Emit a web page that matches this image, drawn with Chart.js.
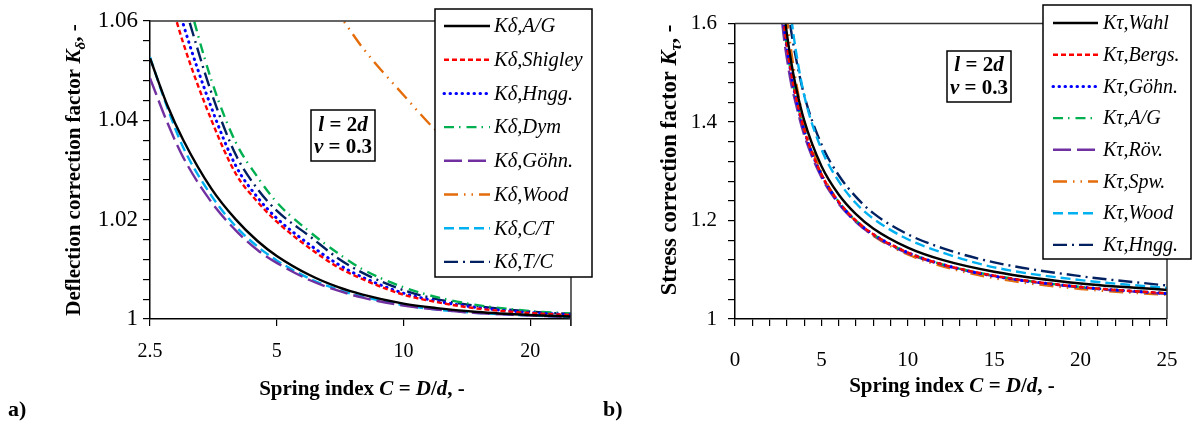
<!DOCTYPE html>
<html>
<head>
<script src="https://cdn.jsdelivr.net/npm/chart.js"></script>
<style>
  body { margin: 0; background: #fff; width: 1192px; height: 427px; overflow: hidden; position: relative; }
  canvas { position: absolute; top: 0; }
</style>
</head>
<body>
<canvas id="chartA" width="596" height="427" style="left:0"></canvas>
<canvas id="chartB" width="596" height="427" style="left:596px"></canvas>
<script>
// ---- a) deflection correction factor vs spring index (log x) ----
const cA = [2.5, 2.75, 3, 3.5, 4, 4.5, 5, 6, 7, 8, 10, 12, 15, 20, 25];
const kdAG      = [1.0525, 1.0430, 1.0360, 1.0262, 1.0200, 1.0157, 1.0127, 1.0088, 1.0064, 1.0049, 1.0031, 1.0022, 1.0014, 1.0008, 1.0005];
const kdShigley = [1.0800, 1.0665, 1.0555, 1.0400, 1.0292, 1.0236, 1.0196, 1.0142, 1.0104, 1.0080, 1.0049, 1.0034, 1.0021, 1.0012, 1.0008];
const kdHngg    = [1.0850, 1.0710, 1.0593, 1.0425, 1.0308, 1.0245, 1.0203, 1.0149, 1.0110, 1.0084, 1.0052, 1.0036, 1.0023, 1.0013, 1.0009];
const kdDym     = [1.0950, 1.0800, 1.0680, 1.0480, 1.0355, 1.0286, 1.0235, 1.0175, 1.0132, 1.0100, 1.0064, 1.0044, 1.0028, 1.0016, 1.0011];
const kdGohn    = [1.0485, 1.0395, 1.0325, 1.0235, 1.0178, 1.0139, 1.0113, 1.0078, 1.0057, 1.0043, 1.0027, 1.0019, 1.0012, 1.0007, 1.0004];
const kdWood    = [null, null, null, null, null, null, null, 1.0685, 1.0615, 1.0546, 1.0451, 1.0378, 1.0310, 1.0240, 1.0199];
const kdCT      = [1.0527, 1.0425, 1.0345, 1.0248, 1.0186, 1.0146, 1.0118, 1.0081, 1.0059, 1.0045, 1.0028, 1.0019, 1.0012, 1.0007, 1.0004];
const kdTC      = [1.0900, 1.0750, 1.0640, 1.0455, 1.0330, 1.0262, 1.0218, 1.0166, 1.0122, 1.0093, 1.0058, 1.0040, 1.0026, 1.0015, 1.0010];
const namesA = ['Kδ,A/G', 'Kδ,Shigley', 'Kδ,Hngg.', 'Kδ,Dym', 'Kδ,Göhn.', 'Kδ,Wood', 'Kδ,C/T', 'Kδ,T/C'];
const xTicksA = [2.5, 5, 10, 20, 25];
const xTickLabelsA = ['2.5', '5', '10', '20', ''];
const yLabelValsA = [1, 1.02, 1.04, 1.06];
const yLabelTxtA = ['1', '1.02', '1.04', '1.06'];

// ---- b) stress correction factor vs spring index ----
const cB = [2.6, 2.8, 3, 3.25, 3.5, 4, 5, 6, 7, 8, 10, 12, 15, 20, 25];
const ktWahl  = [1.705, 1.636, 1.580, 1.5225, 1.476, 1.404, 1.311, 1.253, 1.213, 1.184, 1.145, 1.120, 1.096, 1.072, 1.059];
const ktBergs = [1.676, 1.610, 1.556, 1.500, 1.455, 1.385, 1.294, 1.238, 1.200, 1.172, 1.135, 1.111, 1.088, 1.065, 1.052];
const ktGohn  = [1.667, 1.604, 1.551, 1.4965, 1.452, 1.383, 1.293, 1.237, 1.199, 1.172, 1.135, 1.111, 1.087, 1.065, 1.0515];
const ktAG    = [1.665, 1.603, 1.553, 1.498, 1.454, 1.385, 1.294, 1.238, 1.200, 1.172, 1.135, 1.111, 1.088, 1.065, 1.052];
const ktRov   = [1.650, 1.580, 1.530, 1.478, 1.440, 1.374, 1.288, 1.234, 1.197, 1.170, 1.133, 1.110, 1.087, 1.064, 1.051];
const ktSpw   = [1.760, 1.680, 1.612, 1.545, 1.488, 1.400, 1.298, 1.238, 1.198, 1.169, 1.131, 1.107, 1.083, 1.061, 1.049];
const ktWood  = [null, null, 1.700, 1.615, 1.550, 1.455, 1.345, 1.280, 1.235, 1.204, 1.162, 1.135, 1.105, 1.079, 1.063];
const ktHngg  = [null, null, 1.650, 1.585, 1.535, 1.455, 1.355, 1.292, 1.248, 1.215, 1.172, 1.144, 1.115, 1.087, 1.068];
const namesB = ['Kτ,Wahl', 'Kτ,Bergs.', 'Kτ,Göhn.', 'Kτ,A/G', 'Kτ,Röv.', 'Kτ,Spw.', 'Kτ,Wood', 'Kτ,Hngg.'];
const xLabelValsB = [0, 5, 10, 15, 20, 25];
const yLabelValsB = [1, 1.2, 1.4, 1.6];
const yLabelTxtB = ['1', '1.2', '1.4', '1.6'];

// line styles, same order in both charts
const colors = ['#000000', '#FF0000', '#0000FF', '#00B050', '#7030A0', '#E46C0A', '#00B0F0', '#002060'];
const dashes = [[], [5, 3], [0.5, 5.5], [10, 5, 1.5, 6], [18, 6], [14, 6, 1.5, 6, 1.5, 6], [10, 5], [14, 5, 2, 5]];

Chart.defaults.font.family = '"Liberation Serif", "Times New Roman", serif';
Chart.defaults.color = '#000';

const SERIF = '"Liberation Serif", serif';

function richWidth(ctx, parts) {
  let w = 0;
  parts.forEach(p => { ctx.font = p.f; w += ctx.measureText(p.t).width; });
  return w;
}
function drawRich(ctx, parts, x, y) {
  let cx = x - richWidth(ctx, parts) / 2;
  ctx.textAlign = 'left';
  ctx.textBaseline = 'alphabetic';
  parts.forEach(p => {
    ctx.font = p.f;
    ctx.fillText(p.t, cx, y + (p.dy || 0));
    cx += ctx.measureText(p.t).width;
  });
}

function dataset(xs, ys, i) {
  return {
    data: xs.map((x, j) => ({ x: x, y: ys[j] })),
    borderColor: colors[i],
    borderWidth: i === 2 ? 3 : 2.4,
    borderDash: dashes[i],
    borderCapStyle: i === 2 ? 'round' : 'butt',
    pointRadius: 0,
    cubicInterpolationMode: 'monotone',
    clip: 0,
    fill: false
  };
}

function yScale(min, max, step, vals, txt, pad, width, fs) {
  return {
    type: 'linear', min: min, max: max,
    afterBuildTicks: s => {
      const t = [], n = Math.round((max - min) / step);
      for (let i = 0; i <= n; i++) t.push({ value: +(min + i * step).toFixed(6) });
      s.ticks = t;
    },
    afterFit: s => { s.width = width; },
    ticks: {
      autoSkip: false, padding: pad, font: { size: fs }, color: '#000',
      callback: v => { const j = vals.findIndex(u => Math.abs(u - v) < 1e-9); return j < 0 ? '' : txt[j]; }
    },
    grid: { drawOnChartArea: false, drawTicks: true, tickLength: 7, color: '#000', lineWidth: 1.2 },
    border: { display: true, color: '#000', width: 1.5 }
  };
}

// legend, note box, axis titles, panel letter
function makeDecor(cfg) {
  return {
    id: 'decor',
    afterDraw(chart) {
      const ctx = chart.ctx, a = chart.chartArea;
      const B = 'bold ' + cfg.tf + 'px ' + SERIF, BI = 'italic bold ' + cfg.tf + 'px ' + SERIF;
      const YB = 'bold ' + cfg.yf + 'px ' + SERIF, YBI = 'italic bold ' + cfg.yf + 'px ' + SERIF;
      const SUB = 'italic bold ' + Math.round(cfg.yf * 0.7) + 'px ' + SERIF;
      ctx.save();
      ctx.strokeStyle = '#333';
      ctx.lineWidth = 1.5;
      ctx.beginPath();
      ctx.moveTo(a.left, a.top);
      ctx.lineTo(a.right, a.top);
      ctx.lineTo(a.right, a.bottom + cfg.rightTick);
      ctx.stroke();

      // legend
      const L = cfg.legend;
      ctx.fillStyle = '#fff';
      ctx.fillRect(L.x, L.y, L.w, L.h);
      ctx.strokeStyle = '#000';
      ctx.lineWidth = 1.5;
      ctx.strokeRect(L.x, L.y, L.w, L.h);
      L.names.forEach((name, i) => {
        const y = L.row0 + i * L.dy;
        ctx.beginPath();
        ctx.setLineDash(dashes[i]);
        ctx.lineCap = i === 2 ? 'round' : 'butt';
        ctx.strokeStyle = colors[i];
        ctx.lineWidth = i === 2 ? 3 : 2.4;
        ctx.moveTo(L.lx0, y);
        ctx.lineTo(L.lx1, y);
        ctx.stroke();
        ctx.setLineDash([]);
        ctx.fillStyle = '#000';
        ctx.font = 'italic ' + L.fs + 'px ' + SERIF;
        ctx.textAlign = 'left';
        ctx.textBaseline = 'middle';
        ctx.fillText(name, L.tx, y + 1);
      });

      // parameter note
      const N = cfg.note;
      ctx.fillStyle = '#fff';
      ctx.fillRect(N.x, N.y, N.w, N.h);
      ctx.strokeStyle = '#000';
      ctx.lineWidth = 1.5;
      ctx.strokeRect(N.x, N.y, N.w, N.h);
      ctx.fillStyle = '#000';
      const NB = 'bold 21px ' + SERIF, NBI = 'italic bold 21px ' + SERIF;
      drawRich(ctx, [{ t: 'l', f: NBI }, { t: ' = 2', f: NB }, { t: 'd', f: NBI }], N.x + N.w / 2, N.b1);
      drawRich(ctx, [{ t: 'v', f: NBI }, { t: ' = 0.3', f: NB }], N.x + N.w / 2, N.b2);

      // axis titles
      drawRich(ctx, [{ t: 'Spring index ', f: B }, { t: 'C', f: BI }, { t: ' = ', f: B }, { t: 'D', f: BI },
        { t: '/', f: B }, { t: 'd', f: BI }, { t: ', -', f: B }], cfg.xt[0], cfg.xt[1]);
      ctx.save();
      ctx.translate(cfg.yt[0], cfg.yt[1]);
      ctx.rotate(-Math.PI / 2);
      drawRich(ctx, [{ t: cfg.ytText, f: YB }, { t: 'K', f: YBI }, { t: cfg.ySub, f: SUB, dy: 5 }, { t: ', -', f: YB }], 0, 8);
      ctx.restore();

      ctx.font = 'bold 22px ' + SERIF;
      ctx.textAlign = 'left';
      ctx.textBaseline = 'alphabetic';
      ctx.fillText(cfg.panel, cfg.px, 416);
      ctx.restore();
    }
  };
}

new Chart(document.getElementById('chartA'), {
  type: 'line',
  data: {
    datasets: [kdAG, kdShigley, kdHngg, kdDym, kdGohn, kdWood, kdCT, kdTC].map((s, i) => dataset(cA, s, i))
  },
  options: {
    responsive: false,
    animation: false,
    layout: { padding: { top: 21, right: 25, left: 0, bottom: 0 } },
    plugins: { legend: { display: false }, tooltip: { enabled: false } },
    scales: {
      x: {
        type: 'logarithmic', min: 2.5, max: 25,
        afterBuildTicks: s => { s.ticks = xTicksA.map(v => ({ value: v })); },
        afterFit: s => { s.height = 108; s.paddingLeft = 0; s.paddingRight = 0; },
        ticks: { autoSkip: false, maxRotation: 0, padding: 14, font: { size: 20 }, color: '#000',
          callback: (v, i) => xTickLabelsA[i] },
        grid: { drawOnChartArea: false, drawTicks: true, tickLength: 7, color: '#000', lineWidth: 1.2 },
        border: { display: true, color: '#000', width: 1.5 }
      },
      y: yScale(1, 1.06, 0.004, yLabelValsA, yLabelTxtA, 5, 150, 23)
    }
  },
  plugins: [makeDecor({
    rightTick: 7,
    legend: { x: 435, y: 9, w: 157, h: 268, names: namesA, row0: 26, dy: 33.7, lx0: 444, lx1: 490, tx: 494, fs: 20.5 },
    note: { x: 311, y: 110, w: 64, h: 51, b1: 131, b2: 153 },
    tf: 21, yf: 21,
    xt: [362, 395],
    yt: [72, 170],
    ytText: 'Deflection correction factor ',
    ySub: 'δ',
    panel: 'a)', px: 8
  })]
});

new Chart(document.getElementById('chartB'), {
  type: 'line',
  data: {
    datasets: [ktWahl, ktBergs, ktGohn, ktAG, ktRov, ktSpw, ktWood, ktHngg].map((s, i) => dataset(cB, s, i))
  },
  options: {
    responsive: false,
    animation: false,
    layout: { padding: { top: 21, right: 25, left: 0, bottom: 0 } },
    plugins: { legend: { display: false }, tooltip: { enabled: false } },
    scales: {
      x: {
        type: 'linear', min: 0, max: 25,
        afterBuildTicks: s => { const t = []; for (let v = 0; v <= 25; v++) t.push({ value: v }); s.ticks = t; },
        afterFit: s => { s.height = 108; s.paddingLeft = 0; s.paddingRight = 0; },
        ticks: { autoSkip: false, maxRotation: 0, padding: 22, font: { size: 21 }, color: '#000',
          callback: v => xLabelValsB.includes(v) ? String(v) : '' },
        grid: { drawOnChartArea: false, drawTicks: true, tickLength: 7, color: '#000', lineWidth: 1.2 },
        border: { display: true, color: '#000', width: 1.5 }
      },
      y: yScale(1, 1.6, 0.04, yLabelValsB, yLabelTxtB, 11, 139, 21)
    }
  },
  plugins: [makeDecor({
    rightTick: 0,
    legend: { x: 447, y: 5, w: 148, h: 254, names: namesB, row0: 23, dy: 31.7, lx0: 457, lx1: 502, tx: 507, fs: 20 },
    note: { x: 351, y: 51, w: 64, h: 51, b1: 71, b2: 94 },
    tf: 21, yf: 22.5,
    xt: [356, 392],
    yt: [72, 160],
    ytText: 'Stress correction factor ',
    ySub: 'τ',
    panel: 'b)', px: 7
  })]
});
</script>
</body>
</html>
